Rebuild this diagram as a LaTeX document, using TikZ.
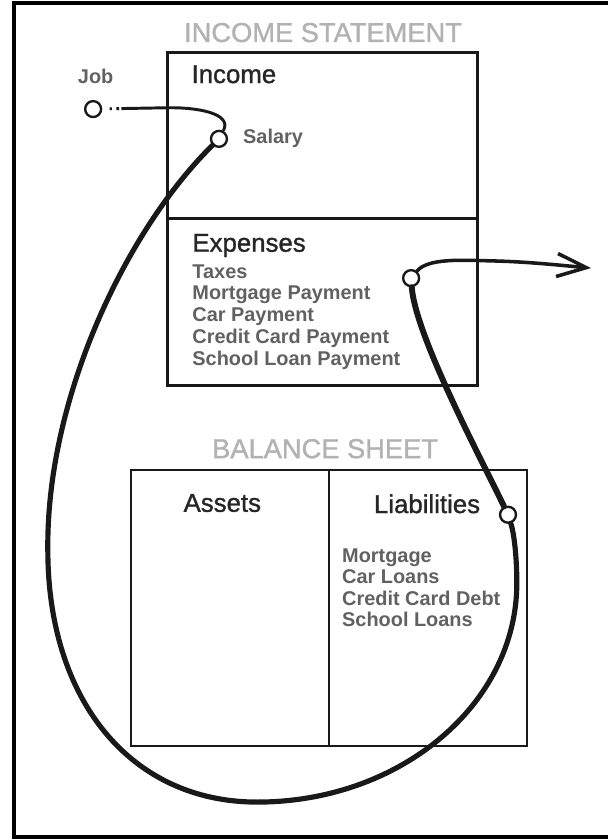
\documentclass[tikz,border=0pt]{standalone}
\usepackage{fontspec}
\setmainfont{Liberation Sans}
\newfontfamily\mediumfont{Liberation Sans}[UprightFeatures={FakeBold=1.2}]
\usepackage{tikz}
\usetikzlibrary{arrows.meta,calc}

\begin{document}
\begin{tikzpicture}[
    sheet/.style={draw=black!90, line width=2pt},
    heading/.style={text=black!30, font=\mediumfont\fontsize{18.5}{22}\selectfont, anchor=base, inner sep=0pt},
    part/.style={text=black!85, font=\mediumfont\fontsize{17.5}{21}\selectfont, anchor=base west, inner sep=0pt},
    entry/.style={text=black!62, font=\bfseries\fontsize{13.5}{16}\selectfont, anchor=base west, inner sep=0pt},
    knot/.style={draw=black!90, circle, fill=white, line width=1.6pt, inner sep=0pt, minimum size=0.38cm},
    flow/.style={draw=black!90, line width=4pt, line cap=round}]

    \useasboundingbox (0,0) rectangle (14.47,20);
    \draw[line width=2.7pt] (14.6,19.93) -- (0.33,19.93) -- (0.33,0.05) -- (14.6,0.05);

    % income statement
    \node[heading] (istitle) at (7.70,19.0) {INCOME STATEMENT};
    \draw[sheet] (4.00,18.74) rectangle (11.39,10.82);
    \draw[sheet] (4.00,14.78) -- (11.39,14.78);
    \node[part] (income) at (4.56,18.02) {Income};
    \node[part] (expenses) at (4.58,14.00) {Expenses};
    \foreach \t [count=\i] in {Taxes, Mortgage Payment, Car Payment, Credit Card Payment, School Loan Payment}
      \node[entry] (exp\i) at (4.58,13.89-0.52*\i) {\t};

    % balance sheet
    \node[heading] (bstitle) at (7.75,9.08) {BALANCE SHEET};
    \draw[sheet, line width=1.7pt] (3.12,8.80) rectangle (12.56,2.22);
    \draw[sheet, line width=1.7pt] (7.84,8.80) -- (7.84,2.22);
    \node[part, anchor=base] (assets) at (5.30,7.80) {Assets};
    \node[part, anchor=base] (liabilities) at (10.18,7.77) {Liabilities};
    \foreach \t [count=\i] in {Mortgage, Car Loans, Credit Card Debt, School Loans}
      \node[entry] (liab\i) at (8.15,7.115-0.515*\i) {\t};

    % cash flow
    \node[entry, anchor=base] (job) at (2.28,18.02) {Job};
    \node[entry] (salary) at (5.79,16.57) {Salary};
    \node[knot] (jobdot) at (2.22,17.40) {};
    \node[knot] (saldot) at (5.22,16.69) {};
    \node[knot] (expdot) at (9.80,13.37) {};
    \node[knot] (liabdot) at (12.11,7.73) {};
    \coordinate (jobend) at (3.93,17.43);
    \coordinate (tip) at (14.09,13.61);

    \draw[flow, line width=2pt, line cap=butt, dash pattern=on 0pt off 5pt on 1.5pt off 3pt on 2pt off 1.5pt on 300pt]
      (jobdot) -- (jobend) .. controls (4.7,17.45) and (5.55,17.3) .. (saldot);
    \draw[flow, line width=3.5pt] (saldot) .. controls (3.0,14.5) and (1.1,10.5) .. (1.14,6.89)
      .. controls (1.14,3.28) and (3.14,0.88) .. (6.13,0.88)
      .. controls (9.55,0.88) and (12.32,3.22) .. (12.32,6.10)
      .. controls (12.32,6.75) and (12.25,7.3) .. (liabdot);
    \draw[flow] (liabdot) .. controls (11.5,9.0) and (9.9,12.0) .. (expdot);
    \draw[flow, line width=2.4pt, -{Straight Barb[length=7mm,width=5.5mm]}]
      (expdot) .. controls (10.2,13.85) and (11.0,13.8) .. (11.75,13.78)
      .. controls (12.6,13.76) and (13.3,13.68) .. (tip);

\end{tikzpicture}
\end{document}
